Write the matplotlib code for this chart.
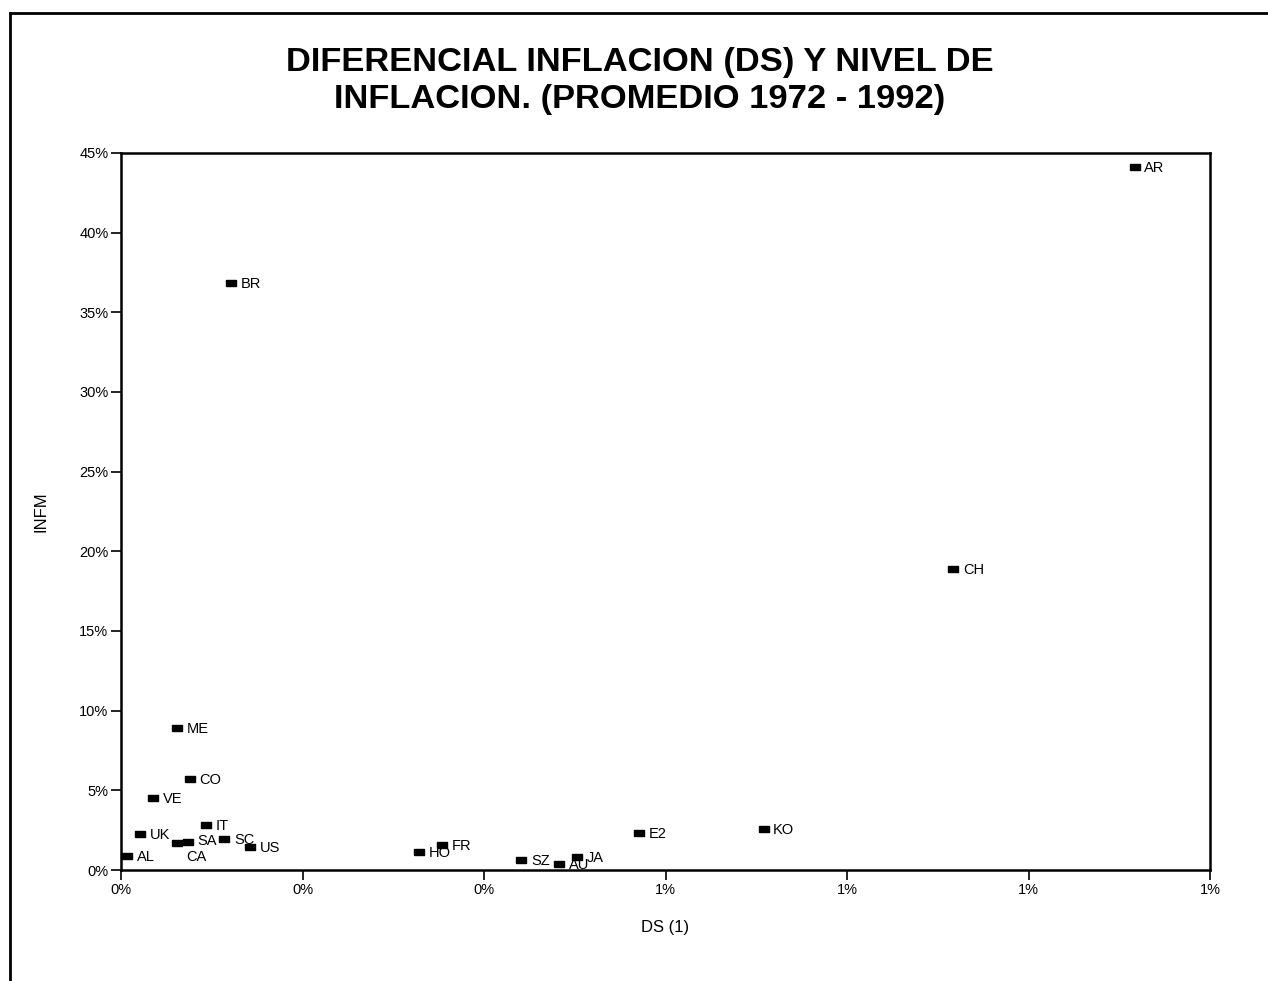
import matplotlib
matplotlib.use("Agg")
import matplotlib.pyplot as plt
from matplotlib.lines import Line2D
from matplotlib.ticker import PercentFormatter, MultipleLocator

plt.rcParams["font.family"] = ["Liberation Sans", "DejaVu Sans"]

# DS (x) and INFM (y)
paises = ["AR", "BR", "CH", "ME", "CO", "VE", "IT", "UK", "AL", "CA", "SA",
          "SC", "US", "HO", "FR", "E2", "SZ", "AU", "JA", "KO"]
ds = [0.01117, 0.00121, 0.00917, 0.000616, 0.000759, 0.000352, 0.000935,
      0.000209, 0.000066, 0.000616, 0.000737, 0.00114, 0.00142, 0.00328,
      0.00354, 0.00571, 0.00441, 0.00483, 0.00503, 0.00708]
infm = [0.4413, 0.3685, 0.189, 0.0891, 0.0571, 0.0452, 0.0282, 0.0226,
        0.0090, 0.0169, 0.0176, 0.0195, 0.0144, 0.0113, 0.0157, 0.0232,
        0.0063, 0.0038, 0.0082, 0.0257]

fig = plt.figure(figsize=(12.68, 9.81), dpi=100)
ax = fig.add_axes([121 / 1268, 1 - 870 / 981, 1089 / 1268, 717 / 981])

# flat rectangle like the original print
rect = [(-1.5, -1), (1.5, -1), (1.5, 1), (-1.5, 1), (-1.5, -1)]
ax.plot(ds, infm, linestyle="none", marker=rect, markersize=7.5,
        color="black")
nudge = {"CA": -10, "SA": 1}
for p, x, y in zip(paises, ds, infm):
    ax.annotate(p, (x, y), xytext=(7, nudge.get(p, -1)),
                textcoords="offset points", ha="left", va="center",
                fontsize=10.5)

ax.set_xlim(0, 0.012)
ax.set_ylim(0, 0.45)
ax.xaxis.set_major_locator(MultipleLocator(0.002))
ax.yaxis.set_major_locator(MultipleLocator(0.05))
ax.xaxis.set_major_formatter(PercentFormatter(xmax=1, decimals=0))
ax.yaxis.set_major_formatter(PercentFormatter(xmax=1, decimals=0))
ax.tick_params(direction="out", length=7, width=1.2, labelsize=10.5, pad=2)
for s in ax.spines.values():
    s.set_linewidth(1.8)

ax.set_xlabel("DS (1)", fontsize=12, labelpad=17)
ax.set_ylabel("INFM", fontsize=12, labelpad=22)

fig.text(0.5045, 1 - 81 / 981, "DIFERENCIAL INFLACION (DS) Y NIVEL DE\nINFLACION. (PROMEDIO 1972 - 1992)",
         ha="center", va="center", fontsize=24.8, fontweight="bold",
         linespacing=1.27)

# page border from the scan
fig.add_artist(Line2D([10 / 1268, 1], [1 - 13 / 981, 1 - 13 / 981],
                      color="black", linewidth=2))
fig.add_artist(Line2D([10 / 1268, 10 / 1268], [0, 1 - 13 / 981],
                      color="black", linewidth=2))

plt.savefig("out.png", dpi=100)
plt.close()
